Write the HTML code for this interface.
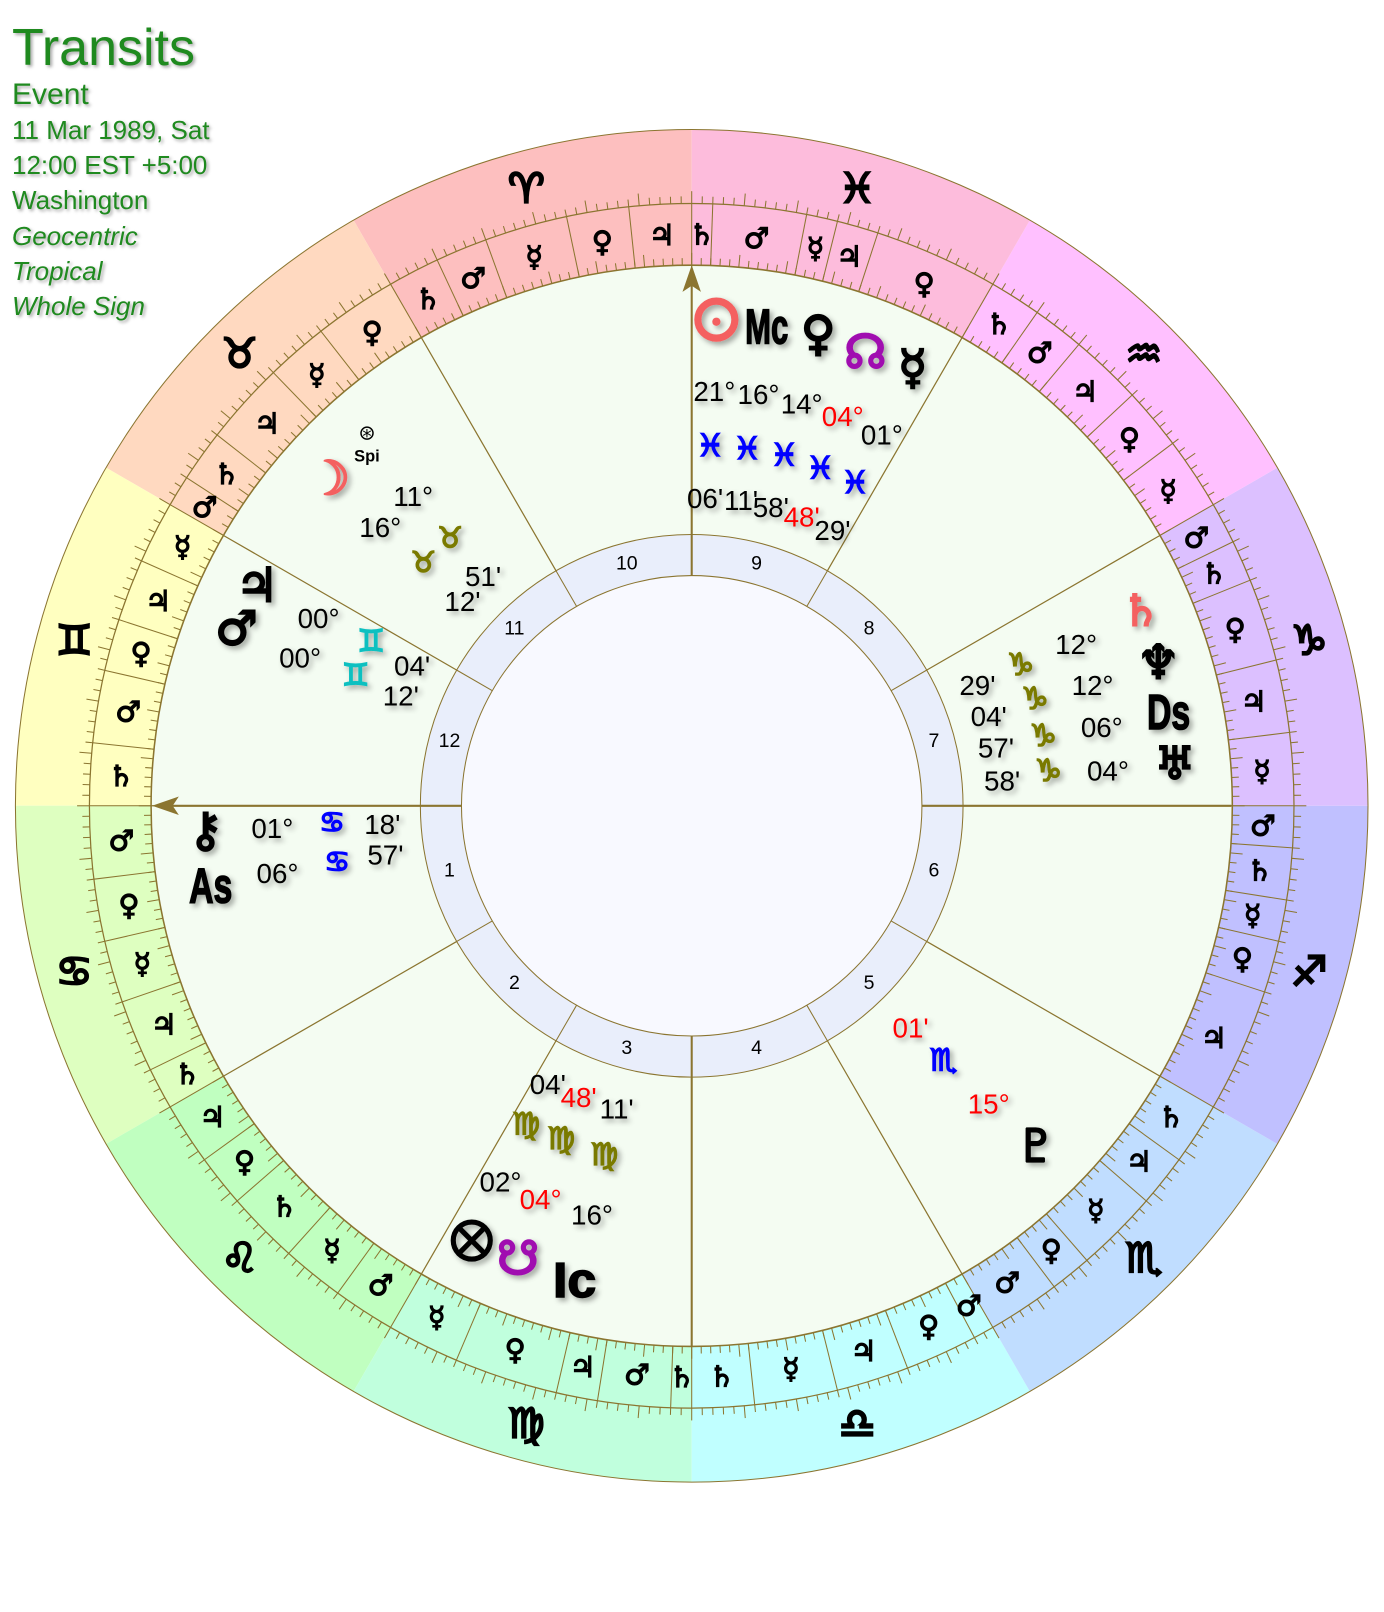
<!DOCTYPE html>
<html><head><meta charset="utf-8">
<style>
body{margin:0;background:#fff;width:1384px;height:1612px;overflow:hidden;font-family:"Liberation Sans",sans-serif}
#hdr{position:absolute;left:12px;top:19px;color:#1f8a1f;text-shadow:2px 2px 3px rgba(0,0,0,.35)}
#hdr div{font-size:26px;line-height:35.2px}
#hdr .t{font-size:52px;line-height:58px}
#hdr .e{font-size:30px;line-height:36px}
#hdr i{font-style:italic}
svg{position:absolute;left:0;top:0}
</style></head><body>
<div id="hdr"><div class="t">Transits</div><div class="e">Event</div><div>11 Mar 1989, Sat</div><div>12:00 EST +5:00</div><div>Washington</div><div><i>Geocentric</i></div><div><i>Tropical</i></div><div><i>Whole Sign</i></div></div>
<svg id="s" width="1384" height="1612" xmlns="http://www.w3.org/2000/svg">
<defs><filter id="sh" x="-30%" y="-30%" width="160%" height="160%"><feDropShadow dx="3" dy="3" stdDeviation="2.5" flood-color="#000" flood-opacity="0.35"/></filter></defs>
<g id="g" transform="scale(1.0278)"></g>
</svg>
<script>
const cx=673,cy=784;
const g=document.getElementById('g');let h='';
function P(r,l){const t=(l+90)*Math.PI/180;return [cx+r*Math.cos(t),cy-r*Math.sin(t)];}
function f(p){return p[0].toFixed(1)+' '+p[1].toFixed(1);}
function ln(a,b,c,w){return `<line x1="${a[0].toFixed(1)}" y1="${a[1].toFixed(1)}" x2="${b[0].toFixed(1)}" y2="${b[1].toFixed(1)}" stroke="${c}" stroke-width="${w}"/>`;}
const cols=['#fdbfbf','#ffd9c0','#ffffc0','#deffc0','#c0ffc0','#c0ffdd','#c0ffff','#c0ddff','#c0c0ff','#dcc0ff','#ffc0ff','#fdbcdc'];
const L='#8b7530';
for(let i=0;i<12;i++){const a=30*i,b=a+30;
h+=`<path d="M${f(P(658,a))} A658 658 0 0 0 ${f(P(658,b))} L${f(P(526,b))} A526 526 0 0 1 ${f(P(526,a))}Z" fill="${cols[i]}"/>`;}
h+=`<circle cx="${cx}" cy="${cy}" r="658" fill="none" stroke="${L}" stroke-width="1"/>`;
h+=`<circle cx="${cx}" cy="${cy}" r="586" fill="none" stroke="${L}" stroke-width="1.2"/>`;
h+=`<circle cx="${cx}" cy="${cy}" r="526" fill="#f4fcf2" stroke="${L}" stroke-width="1.5"/>`;
h+=`<circle cx="${cx}" cy="${cy}" r="264" fill="#e9eefb" stroke="${L}" stroke-width="1"/>`;
h+=`<circle cx="${cx}" cy="${cy}" r="224" fill="#f8f9ff" stroke="${L}" stroke-width="1"/>`;
for(let d=0;d<360;d++){const len=d%5==0?12:7;
h+=ln(P(586,d),P(586+len,d),L,1);h+=ln(P(526,d),P(526+len,d),L,1);}
const sg=['♈','♉','♊','♋','♌','♍','♎','♏','♐','♑','♒','♓'];
for(let i=0;i<12;i++){const p=P(622,30*i+15);
h+=`<text x="${p[0]}" y="${p[1]}" font-family="DejaVu Sans" font-weight="bold" font-size="40" stroke="#000" stroke-width="2.2" text-anchor="middle" dominant-baseline="central">${sg[i]}&#xFE0E;</text>`;}
const T=[['♃',6,'♀',12,'☿',20,'♂',25,'♄',30],['♀',8,'☿',14,'♃',22,'♄',27,'♂',30],['☿',6,'♃',12,'♀',17,'♂',24,'♄',30],['♂',7,'♀',13,'☿',19,'♃',26,'♄',30],['♃',6,'♀',11,'♄',18,'☿',24,'♂',30],['☿',7,'♀',17,'♃',21,'♂',28,'♄',30],['♄',6,'☿',14,'♃',21,'♀',28,'♂',30],['♂',7,'♀',11,'☿',19,'♃',24,'♄',30],['♃',12,'♀',17,'☿',21,'♄',26,'♂',30],['☿',7,'♃',14,'♀',22,'♄',26,'♂',30],['☿',7,'♀',13,'♃',20,'♂',25,'♄',30],['♀',12,'♃',16,'☿',19,'♂',28,'♄',30]];
for(let i=0;i<12;i++){let s=0;for(let k=0;k<5;k++){const e=T[i][2*k+1];const a=30*i+s,b=30*i+e;
h+=ln(P(526,b),P(586,b),L,1);
const p=P(556,(a+b)/2);
h+=`<text x="${p[0]}" y="${p[1]}" font-family="DejaVu Sans" font-weight="bold" font-size="28" stroke="#000" stroke-width="1.2" text-anchor="middle" dominant-baseline="central">${T[i][2*k]}</text>`;s=e;}}
for(let i=0;i<12;i++){const a=30*i;
h+=ln(P(264,a),P(526,a),L,1.2);h+=ln(P(224,a),P(264,a),L,1);
const p=P(244,90+15+30*i);
h+=`<text x="${p[0]}" y="${p[1]}" font-size="19" text-anchor="middle" dominant-baseline="central">${i+1}</text>`;}
h+=`<line x1="673" y1="262" x2="673" y2="560" stroke="${L}" stroke-width="2"/><line x1="673" y1="1008" x2="673" y2="1310" stroke="${L}" stroke-width="2"/>`;
h+=`<line x1="152" y1="784" x2="449" y2="784" stroke="${L}" stroke-width="2"/><line x1="897" y1="784" x2="1198" y2="784" stroke="${L}" stroke-width="2"/>`;
h+=`<path d="M673 258 L664 284 L673 278 L682 284Z" fill="${L}"/><path d="M148 784 L174 775 L168 784 L174 793Z" fill="${L}"/>`;
function t(x,y,s,sz,c,extra){h+=`<text x="${x}" y="${y}" font-size="${sz}" fill="${c||'#000'}" text-anchor="middle" dominant-baseline="central" ${extra||''}>${s}</text>`;}
function G(x,y,s,sz,c,sw){c=c||'#000';t(x,y,s,sz,c,`font-family="DejaVu Sans" font-weight="bold" stroke="${c}" stroke-width="${sw||2}" filter="url(#sh)"`);}
function A(x,y,s){t(x,y,s,48,'#000','font-weight="bold" font-family="Liberation Sans" stroke="#000" stroke-width="1.5" textLength="'+(s.length*21)+'" lengthAdjust="spacingAndGlyphs" filter="url(#sh)"');}
function D(x,y,s,c){t(x,y,s,27,c,'filter="url(#sh)"');}
h+=`<g filter="url(#sh)"><circle cx="697" cy="311" r="18" fill="none" stroke="#f46060" stroke-width="7"/><circle cx="697" cy="313" r="4" fill="#f46060"/></g>`;
A(746,318,'Mc');G(796,325,'♀',46);G(842,343,'☊',46,'#a010b0');G(888,358,'☿',46);
D(695,381,'21°');D(738,384,'16°');D(780,393,'14°');D(820,405,'04°','#f00');D(858,423,'01°');
[[691,434],[727,437],[763,443],[798,456],[832,470]].forEach(p=>G(p[0],p[1],'♓',30,'#0000ff',1.5));
D(686,485,"06'");D(721,487,"11'");D(750,494,"58'");D(780,503,"48'",'#f00');D(810,516,"29'");
G(1110,595,'♄',42,'#f46060');G(1127,645,'♆',46);A(1137,693,'Ds');G(1143,743,'♅',44);
D(1047,627,'12°');D(1063,667,'12°');D(1072,708,'06°');D(1078,750,'04°');
[[993,647],[1007,680],[1015,716],[1020,750]].forEach(p=>G(p[0],p[1],'♑',30,'#7a7a00',1.5));
D(951,667,"29'");D(962,697,"04'");D(969,728,"57'");D(975,760,"58'");
D(886,1000,"01'",'#f00');G(918,1032,'♏',30,'#0000ff',1.5);D(962,1074,'15°','#f00');G(1008,1115,'♇',44);
D(533,1055,"04'");D(563,1068,"48'",'#f00');D(600,1079,"11'");
[[512,1094],[546,1108],[588,1124]].forEach(p=>G(p[0],p[1],'♍',30,'#7a7a00',1.5));
D(487,1150,'02°');D(526,1167,'04°','#f00');D(576,1182,'16°');
h+=`<g filter="url(#sh)"><circle cx="459" cy="1207" r="18" fill="none" stroke="#000" stroke-width="5"/><line x1="446" y1="1194" x2="472" y2="1220" stroke="#000" stroke-width="5"/><line x1="472" y1="1194" x2="446" y2="1220" stroke="#000" stroke-width="5"/></g>`;
G(504,1225,'☋',46,'#a010b0');A(559,1246,'Ic');
G(200,808,'⚷',46);A(205,862,'As');D(265,806,'01°');D(270,850,'06°');
G(323,800,'♋',28,'#0000ff',1.5);G(328,838,'♋',28,'#0000ff',1.5);D(372,802,"18'");D(375,832,"57'");
G(250,570,'♃',46);G(230,612,'♂',46);D(310,602,'00°');D(292,640,'00°');
G(361,624,'♊',30,'#10c0c0',1.5);G(346,657,'♊',30,'#10c0c0',1.5);D(401,648,"04'");D(390,677,"12'");
G(320,466,'☽',46,'#f46060');t(357,421,'⊛',20,'#000','font-family="DejaVu Sans"');t(357,444,'Spi',16,'#000','font-weight="bold"');
D(402,483,'11°');D(370,513,'16°');
G(438,523,'♉',28,'#7a7a00',1.5);G(412,547,'♉',28,'#7a7a00',1.5);D(470,561,"51'");D(450,585,"12'");
g.innerHTML=h;
</script>
</body></html>
